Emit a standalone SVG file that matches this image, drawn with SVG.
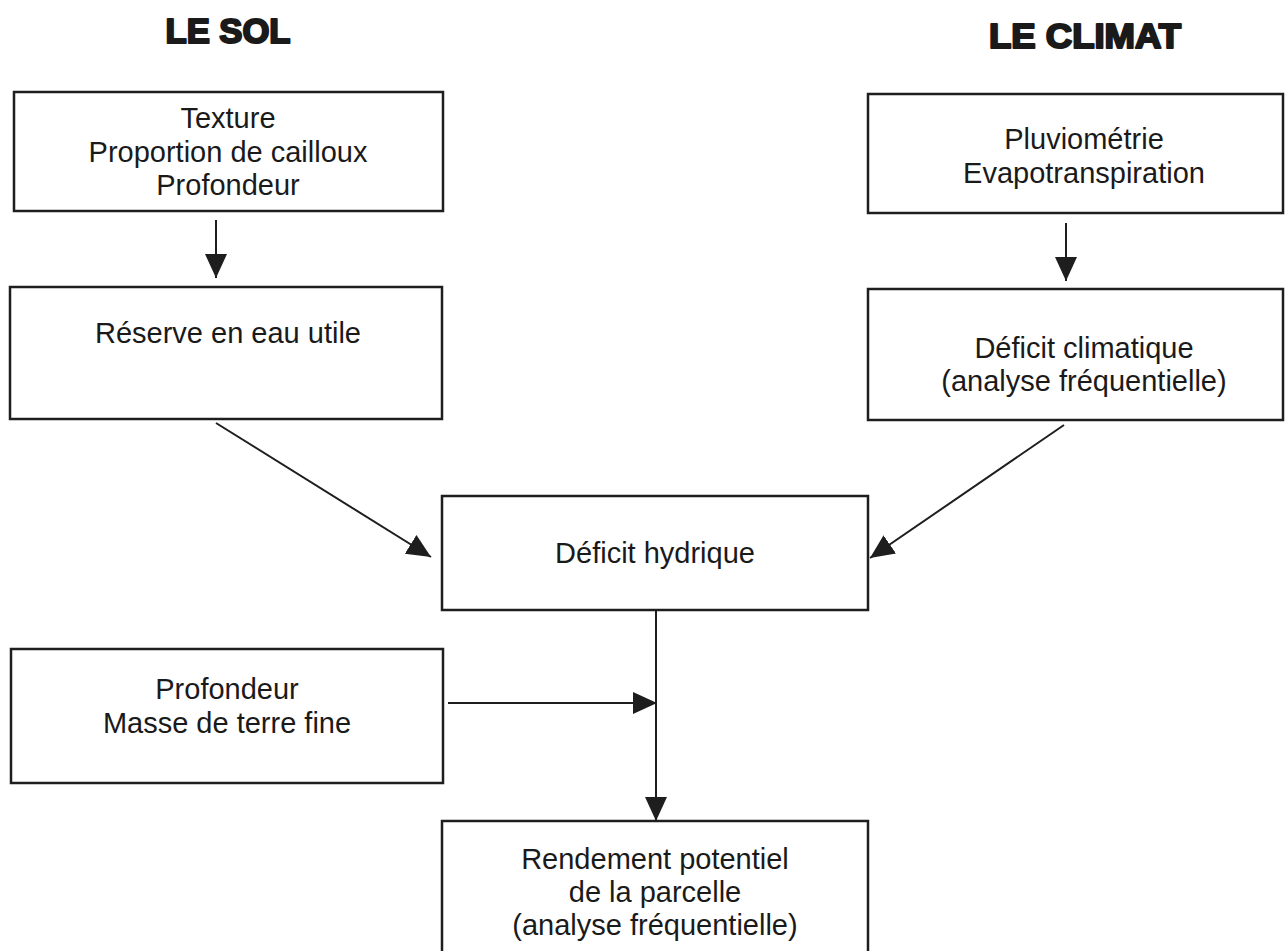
<svg xmlns="http://www.w3.org/2000/svg" width="1285" height="951" viewBox="0 0 1285 951">
<style>
.box{fill:#fff;stroke:#1e1e1e;stroke-width:2.5}
.t{font-family:"Liberation Sans",Arial,sans-serif;font-size:29px;fill:#1a1a1a;text-anchor:middle}
.h{font-family:"Liberation Sans",Arial,sans-serif;font-size:35px;font-weight:bold;fill:#1a1a1a;stroke:#1a1a1a;stroke-width:2.2;stroke-linejoin:round;text-anchor:middle}
.c{stroke:#1e1e1e;stroke-width:2;fill:none;marker-end:url(#ah)}
</style>
<defs>
<marker id="ah" markerUnits="userSpaceOnUse" markerWidth="26" markerHeight="24" refX="24" refY="12" orient="auto" viewBox="0 0 26 24">
<path d="M0,1 L24,12 L0,23 Z" fill="#1e1e1e"/>
</marker>
</defs>
<rect width="1285" height="951" fill="#fff"/>
<g id="title-sol"><text class="h" x="228" y="43" textLength="125" lengthAdjust="spacingAndGlyphs">LE SOL</text></g>
<g id="title-climat"><text class="h" x="1085" y="48" textLength="192" lengthAdjust="spacingAndGlyphs">LE CLIMAT</text></g>
<g id="n-texture">
<rect class="box" x="14" y="92" width="429" height="119"/>
<text class="t" x="228" y="128">Texture</text>
<text class="t" x="228" y="162">Proportion de cailloux</text>
<text class="t" x="228" y="195">Profondeur</text>
</g>
<g id="n-reserve">
<rect class="box" x="10" y="287" width="432" height="132"/>
<text class="t" x="228" y="343">Réserve en eau utile</text>
</g>
<g id="n-pluvio">
<rect class="box" x="868" y="94" width="415" height="119"/>
<text class="t" x="1084" y="149">Pluviométrie</text>
<text class="t" x="1084" y="183">Evapotranspiration</text>
</g>
<g id="n-deficit-clim">
<rect class="box" x="868" y="289" width="415" height="131"/>
<text class="t" x="1084" y="358">Déficit climatique</text>
<text class="t" x="1084" y="391">(analyse fréquentielle)</text>
</g>
<g id="n-deficit-hyd">
<rect class="box" x="442" y="496" width="426" height="114"/>
<text class="t" x="655" y="563">Déficit hydrique</text>
</g>
<g id="n-profondeur">
<rect class="box" x="11" y="649" width="432" height="134"/>
<text class="t" x="227" y="699">Profondeur</text>
<text class="t" x="227" y="733">Masse de terre fine</text>
</g>
<g id="n-rendement">
<rect class="box" x="442" y="821" width="426" height="145"/>
<text class="t" x="655" y="869">Rendement potentiel</text>
<text class="t" x="655" y="902">de la parcelle</text>
<text class="t" x="655" y="935">(analyse fréquentielle)</text>
</g>
<g id="connectors">
<path class="c" d="M216,220 L216,278"/>
<path class="c" d="M1066,223 L1066,281"/>
<path class="c" d="M216,423 L431,557"/>
<path class="c" d="M1064,425 L870,558"/>
<path class="c" d="M656,610 L656,821"/>
<path class="c" d="M448,703 L657,703"/>
</g>
</svg>
